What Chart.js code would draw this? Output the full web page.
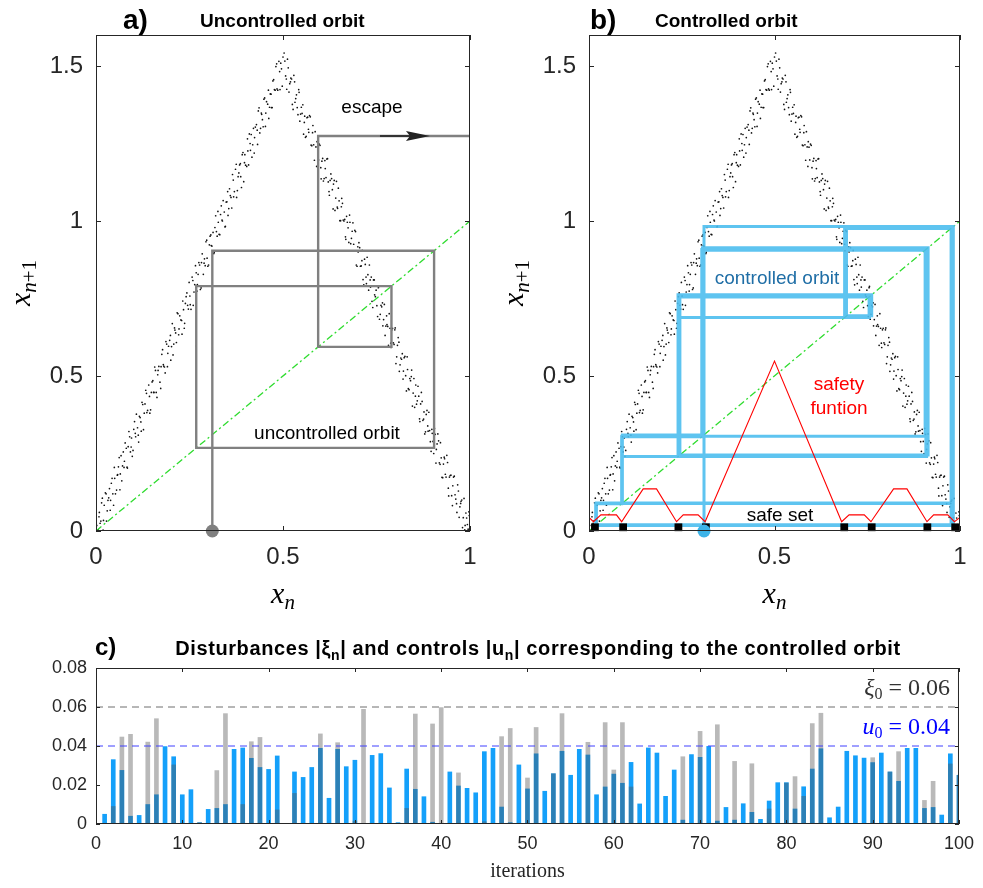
<!DOCTYPE html>
<html>
<head>
<meta charset="utf-8">
<script src="https://cdn.jsdelivr.net/npm/chart.js@4.4.1/dist/chart.umd.min.js"></script>
<style>
  body { margin: 0; background: #fff; }
  #wrap { position: relative; width: 983px; height: 888px; background: #fff; }
  canvas { position: absolute; }
</style>
</head>
<body>
<div id="wrap">
  <canvas id="chartA" width="490" height="620" style="left:0;top:0"></canvas>
  <canvas id="chartB" width="490" height="620" style="left:493px;top:0"></canvas>
  <canvas id="chartC" width="983" height="268" style="left:0;top:620px"></canvas>
</div>
<script>
// noisy tent map samples (x_n, x_{n+1})
const noisyMap = [
  [0.002,0.018],[0.006,0.004],[0.009,0.060],[0.013,0.032],[0.017,0.106],[0.020,0.034],[0.025,0.123],[0.028,0.032],
  [0.032,0.099],[0.036,0.137],[0.039,0.099],[0.043,0.170],[0.047,0.083],[0.050,0.170],[0.055,0.132],[0.058,0.182],
  [0.062,0.237],[0.065,0.184],[0.069,0.162],[0.073,0.255],[0.076,0.225],[0.081,0.267],[0.084,0.203],[0.088,0.321],
  [0.092,0.255],[0.095,0.300],[0.099,0.260],[0.103,0.353],[0.106,0.304],[0.111,0.333],[0.114,0.287],[0.118,0.366],
  [0.121,0.322],[0.125,0.408],[0.129,0.380],[0.133,0.454],[0.136,0.382],[0.141,0.471],[0.144,0.380],[0.148,0.447],
  [0.152,0.485],[0.155,0.447],[0.159,0.518],[0.163,0.431],[0.166,0.518],[0.171,0.480],[0.174,0.530],[0.178,0.585],
  [0.181,0.532],[0.185,0.510],[0.189,0.603],[0.192,0.573],[0.197,0.615],[0.200,0.551],[0.204,0.669],[0.208,0.603],
  [0.211,0.648],[0.215,0.608],[0.219,0.701],[0.222,0.652],[0.227,0.681],[0.230,0.635],[0.234,0.714],[0.237,0.670],
  [0.241,0.756],[0.245,0.728],[0.249,0.802],[0.252,0.730],[0.257,0.819],[0.260,0.728],[0.264,0.795],[0.268,0.833],
  [0.271,0.795],[0.275,0.866],[0.279,0.779],[0.282,0.866],[0.287,0.828],[0.290,0.878],[0.294,0.933],[0.297,0.880],
  [0.301,0.858],[0.305,0.951],[0.308,0.921],[0.313,0.963],[0.316,0.899],[0.320,1.017],[0.324,0.951],[0.327,0.996],
  [0.331,0.956],[0.335,1.049],[0.338,1.000],[0.343,1.029],[0.346,0.983],[0.350,1.062],[0.353,1.018],[0.357,1.104],
  [0.361,1.076],[0.365,1.150],[0.368,1.078],[0.373,1.167],[0.376,1.076],[0.380,1.143],[0.384,1.181],[0.387,1.143],
  [0.391,1.214],[0.395,1.127],[0.398,1.214],[0.403,1.176],[0.406,1.226],[0.410,1.281],[0.413,1.228],[0.417,1.206],
  [0.421,1.299],[0.424,1.269],[0.429,1.311],[0.432,1.247],[0.436,1.365],[0.440,1.299],[0.443,1.344],[0.447,1.304],
  [0.451,1.397],[0.454,1.348],[0.459,1.377],[0.462,1.331],[0.466,1.410],[0.469,1.366],[0.473,1.452],[0.477,1.424],
  [0.481,1.498],[0.484,1.426],[0.489,1.515],[0.492,1.424],[0.496,1.491],[0.500,1.529],
  [0.503,1.542],[0.507,1.468],[0.510,1.425],[0.514,1.494],[0.518,1.443],[0.521,1.461],[0.525,1.376],[0.529,1.470],
  [0.532,1.383],[0.536,1.407],[0.540,1.343],[0.543,1.415],[0.547,1.345],[0.551,1.347],[0.555,1.280],[0.558,1.338],
  [0.562,1.273],[0.566,1.335],[0.569,1.286],[0.573,1.336],[0.577,1.243],[0.580,1.308],[0.584,1.196],[0.588,1.239],
  [0.591,1.256],[0.595,1.197],[0.599,1.244],[0.602,1.136],[0.606,1.202],[0.610,1.137],[0.613,1.169],[0.617,1.200],
  [0.621,1.126],[0.624,1.083],[0.628,1.152],[0.632,1.101],[0.635,1.119],[0.639,1.034],[0.643,1.128],[0.646,1.041],
  [0.650,1.065],[0.654,1.001],[0.657,1.073],[0.661,1.003],[0.665,1.005],[0.668,0.941],[0.672,0.996],[0.676,0.931],
  [0.679,0.996],[0.683,0.944],[0.687,0.994],[0.690,0.904],[0.694,0.966],[0.698,0.854],[0.701,0.900],[0.705,0.914],
  [0.709,0.855],[0.712,0.905],[0.716,0.794],[0.720,0.860],[0.723,0.798],[0.727,0.827],[0.731,0.858],[0.734,0.787],
  [0.738,0.741],[0.742,0.810],[0.745,0.762],[0.749,0.777],[0.753,0.692],[0.756,0.789],[0.760,0.699],[0.764,0.723],
  [0.767,0.662],[0.771,0.731],[0.775,0.661],[0.778,0.666],[0.782,0.599],[0.786,0.654],[0.789,0.592],[0.793,0.654],
  [0.797,0.602],[0.800,0.655],[0.804,0.562],[0.808,0.624],[0.811,0.515],[0.815,0.558],[0.819,0.572],[0.822,0.516],
  [0.826,0.563],[0.830,0.452],[0.833,0.521],[0.837,0.456],[0.841,0.485],[0.844,0.519],[0.848,0.445],[0.852,0.399],
  [0.855,0.471],[0.859,0.420],[0.863,0.435],[0.866,0.353],[0.870,0.447],[0.874,0.357],[0.877,0.384],[0.881,0.320],
  [0.885,0.389],[0.888,0.322],[0.892,0.324],[0.896,0.257],[0.899,0.315],[0.903,0.250],[0.907,0.312],[0.910,0.263],
  [0.914,0.313],[0.918,0.220],[0.921,0.285],[0.925,0.173],[0.929,0.216],[0.932,0.233],[0.936,0.174],[0.940,0.221],
  [0.943,0.113],[0.947,0.179],[0.951,0.114],[0.954,0.146],[0.958,0.177],[0.962,0.103],[0.965,0.060],[0.969,0.129],
  [0.973,0.078],[0.976,0.096],[0.980,0.011],[0.984,0.105],[0.987,0.018],[0.991,0.042],[0.995,0.006],[0.998,0.050],
  [0.004,0.003],[0.008,0.046],[0.011,0.025],[0.015,0.091],[0.019,0.003],[0.022,0.083],[0.027,0.120],[0.030,0.065],
  [0.034,0.107],[0.038,0.067],[0.041,0.154],[0.045,0.120],[0.049,0.205],[0.052,0.120],[0.057,0.180],[0.060,0.207],
  [0.064,0.133],[0.067,0.243],[0.071,0.210],[0.075,0.205],[0.078,0.284],[0.083,0.206],[0.086,0.272],[0.090,0.304],
  [0.094,0.271],[0.097,0.241],[0.101,0.328],[0.105,0.315],[0.108,0.377],[0.113,0.309],[0.116,0.370],[0.120,0.352],
  [0.123,0.415],[0.127,0.327],[0.131,0.410],[0.135,0.444],[0.138,0.389],[0.143,0.434],[0.146,0.391],[0.150,0.481],
  [0.154,0.447],[0.157,0.529],[0.161,0.447],[0.165,0.504],[0.168,0.531],[0.173,0.460],[0.176,0.570],[0.180,0.537],
  [0.183,0.529],[0.187,0.611],[0.191,0.530],[0.194,0.596],[0.199,0.631],[0.202,0.595],[0.206,0.568],[0.210,0.655],
  [0.213,0.639],[0.217,0.704],[0.221,0.633],[0.224,0.694],[0.229,0.679],[0.232,0.742],[0.236,0.654],[0.239,0.734],
  [0.243,0.768],[0.247,0.716],[0.251,0.758],[0.254,0.715],[0.259,0.808],[0.262,0.771],[0.266,0.856],[0.270,0.774],
  [0.273,0.828],[0.277,0.858],[0.281,0.784],[0.284,0.894],[0.289,0.864],[0.292,0.856],[0.296,0.938],[0.299,0.854],
  [0.303,0.923],[0.307,0.955],[0.310,0.919],[0.315,0.895],[0.318,0.979],[0.322,0.966],[0.326,1.031],[0.329,0.957],
  [0.333,1.021],[0.337,1.003],[0.340,1.066],[0.345,0.981],[0.348,1.061],[0.352,1.095],[0.355,1.040],[0.359,1.082],
  [0.363,1.042],[0.367,1.132],[0.370,1.095],[0.375,1.183],[0.378,1.098],[0.382,1.155],[0.386,1.185],[0.389,1.108],
  [0.393,1.221],[0.397,1.188],[0.400,1.180],[0.405,1.265],[0.408,1.181],[0.412,1.250],[0.415,1.279],[0.419,1.246],
  [0.423,1.219],[0.426,1.303],[0.431,1.293],[0.434,1.355],[0.438,1.284],[0.442,1.348],[0.445,1.327],[0.449,1.393],
  [0.453,1.305],[0.456,1.385],[0.461,1.422],[0.464,1.367],[0.468,1.409],[0.471,1.366],[0.475,1.456],[0.479,1.422],
  [0.483,1.507],[0.486,1.422],[0.491,1.482],[0.494,1.509],[0.498,1.435],
  [0.505,1.516],[0.509,1.458],[0.512,1.522],[0.516,1.416],[0.520,1.449],[0.523,1.458],[0.527,1.360],[0.531,1.449],
  [0.534,1.395],[0.538,1.366],[0.542,1.424],[0.545,1.322],[0.549,1.367],[0.553,1.375],[0.557,1.318],[0.560,1.270],
  [0.564,1.333],[0.568,1.296],[0.571,1.340],[0.575,1.245],[0.579,1.285],[0.582,1.246],[0.586,1.288],[0.590,1.176],
  [0.593,1.238],[0.597,1.248],[0.601,1.172],[0.604,1.193],[0.608,1.129],[0.612,1.195],[0.615,1.140],[0.619,1.201],
  [0.623,1.095],[0.626,1.131],[0.630,1.137],[0.634,1.039],[0.637,1.131],[0.641,1.074],[0.645,1.045],[0.648,1.106],
  [0.652,1.001],[0.656,1.046],[0.659,1.057],[0.663,1.000],[0.667,0.949],[0.670,1.015],[0.674,0.978],[0.678,1.019],
  [0.681,0.927],[0.685,0.967],[0.689,0.925],[0.692,0.970],[0.696,0.858],[0.700,0.917],[0.703,0.930],[0.707,0.854],
  [0.711,0.872],[0.714,0.811],[0.718,0.877],[0.722,0.819],[0.725,0.883],[0.729,0.777],[0.733,0.810],[0.736,0.819],
  [0.740,0.721],[0.744,0.810],[0.747,0.756],[0.751,0.727],[0.755,0.785],[0.758,0.683],[0.762,0.728],[0.766,0.736],
  [0.769,0.682],[0.773,0.631],[0.777,0.694],[0.780,0.660],[0.784,0.701],[0.788,0.606],[0.791,0.649],[0.795,0.607],
  [0.799,0.649],[0.802,0.540],[0.806,0.599],[0.810,0.609],[0.813,0.536],[0.817,0.554],[0.821,0.490],[0.824,0.559],
  [0.828,0.501],[0.832,0.562],[0.835,0.459],[0.839,0.492],[0.843,0.498],[0.846,0.403],[0.850,0.492],[0.854,0.435],
  [0.857,0.409],[0.861,0.467],[0.865,0.362],[0.868,0.410],[0.872,0.418],[0.876,0.361],[0.879,0.313],[0.883,0.376],
  [0.887,0.339],[0.890,0.383],[0.894,0.288],[0.898,0.328],[0.901,0.289],[0.905,0.331],[0.909,0.219],[0.912,0.281],
  [0.916,0.291],[0.920,0.215],[0.923,0.236],[0.927,0.172],[0.931,0.238],[0.934,0.183],[0.938,0.244],[0.942,0.138],
  [0.945,0.174],[0.949,0.180],[0.953,0.082],[0.956,0.174],[0.960,0.117],[0.964,0.088],[0.967,0.149],[0.971,0.044],
  [0.975,0.089],[0.978,0.100],[0.982,0.043],[0.986,0.004],[0.989,0.058],[0.993,0.021],[0.997,0.062]
];

// orbits (successive x_n values)
const uncontrolledOrbit = [0.311, 0.904, 0.268, 0.79, 0.594, 1.274];
const controlledOrbit = [0.31, 0.982, 0.019, 0.089, 0.24, 0.756, 0.689, 0.982, 0.089, 0.306, 0.91, 0.24,
  0.689, 0.976, 0.02, 0.09, 0.31, 0.906, 0.306, 0.914, 0.245, 0.76, 0.694, 0.978, 0.018, 0.088, 0.304,
  0.908, 0.24, 0.755, 0.69, 0.98, 0.09, 0.24, 0.762, 0.694, 0.978];

// safety function and safe set
const safetyX = [0, 0.012, 0.032, 0.074, 0.088, 0.146, 0.182, 0.236, 0.254, 0.294, 0.313, 0.5,
  0.681, 0.701, 0.742, 0.76, 0.821, 0.857, 0.911, 0.929, 0.967, 0.985, 1];
const safetyY = [0.044, 0.03, 0.052, 0.052, 0.03, 0.136, 0.136, 0.03, 0.052, 0.052, 0.03, 0.548,
  0.03, 0.052, 0.052, 0.03, 0.136, 0.136, 0.03, 0.052, 0.052, 0.03, 0.044];
const safeSetX = [0.016, 0.092, 0.241, 0.315, 0.688, 0.762, 0.912, 0.987];
const safeSetY = 0.012;

const orbitTicksX = [0, 0.5, 1];
const orbitTicksY = [0, 0.5, 1, 1.5];

// panel c: |u_n| and |xi_n| for n = 1..100
const controls = [
  0.005, 0.033, 0.0275, 0.004, 0.0044, 0.010, 0.015, 0.0397, 0.0345, 0.015,
  0.0176, 0.0007, 0.0075, 0.008, 0.010, 0.0383, 0.039, 0.0337, 0.029, 0.028,
  0.0349, 0.0003, 0.0267, 0.0239, 0.029, 0.0388, 0.0132, 0.0383, 0.0294, 0.0327,
  0, 0.0352, 0.0361, 0.0185, 0.0007, 0.0282, 0.0178, 0.014, 0.0009, 0,
  0.0267, 0.0195, 0.0183, 0.016, 0.0371, 0.0388, 0.0087, 0.0007, 0.0303, 0.018,
  0.036, 0.0168, 0.0258, 0.0373, 0.025, 0.0383, 0.0354, 0.015, 0.019, 0.0256,
  0.0209, 0.0316, 0.0103, 0.039, 0.0364, 0.0142, 0.0277, 0.002, 0.0356, 0.0342,
  0.0398, 0.0015, 0.0085, 0.002, 0.0104, 0.006, 0.0024, 0.0118, 0.0212, 0.0212,
  0.0077, 0.0191, 0.0282, 0.0386, 0.0032, 0.0087, 0.0373, 0.035, 0.0338, 0.0315,
  0.0364, 0.0267, 0.0219, 0.0388, 0.0388, 0.008, 0.0085, 0.0046, 0.036, 0.025
];
const disturbances = [
  0, 0.009, 0.0446, 0.046, 0, 0.042, 0.054, 0, 0.0303, 0,
  0, 0.0007, 0, 0.0274, 0.0566, 0, 0.010, 0.0422, 0.0444, 0,
  0.0072, 0, 0.0157, 0, 0, 0.0462, 0, 0.0417, 0, 0.0015,
  0.0588, 0, 0, 0, 0, 0.008, 0.0564, 0, 0.0513, 0.0597,
  0, 0.0262, 0, 0, 0.0012, 0, 0.0448, 0.049, 0, 0.0236,
  0.0495, 0, 0.0258, 0.0566, 0, 0, 0.0419, 0, 0.052, 0.0277,
  0.052, 0.019, 0, 0, 0, 0, 0, 0.0345, 0, 0.0475,
  0, 0.0509, 0, 0.0321, 0, 0.0309, 0, 0.0077, 0, 0.021,
  0.0243, 0.0142, 0.0515, 0.0568, 0, 0, 0, 0, 0, 0.034,
  0, 0.0267, 0.0371, 0, 0, 0.0121, 0.0219, 0, 0.0308, 0.025
];
const xiBound = 0.06;
const uBound = 0.04;
const iterTicks = [0, 10, 20, 30, 40, 50, 60, 70, 80, 90, 100];
const barTicksY = [0, 0.02, 0.04, 0.06, 0.08];

const SANS = "'Liberation Sans', Arial, sans-serif";
const SERIF = "'Liberation Serif', 'Times New Roman', serif";
Chart.defaults.font.family = SANS;
Chart.defaults.color = '#262626';

// cobweb path: (x0,0) -> (x0,x1) -> (x1,x1) -> (x1,x2) -> ...
function cobweb(orbit) {
  const pts = [{ x: orbit[0], y: 0 }];
  for (let i = 0; i < orbit.length - 1; i++) {
    pts.push({ x: orbit[i], y: orbit[i + 1] });
    pts.push({ x: orbit[i + 1], y: orbit[i + 1] });
  }
  return pts;
}

function drawRuns(ctx, runs, x, y, align, spacing) {
  ctx.letterSpacing = spacing || '0px';
  let w = 0;
  runs.forEach(r => { ctx.font = r.font; w += ctx.measureText(r.text).width; });
  let cx = align === 'center' ? x - w / 2 : align === 'right' ? x - w : x;
  ctx.textAlign = 'left';
  ctx.textBaseline = 'alphabetic';
  runs.forEach(r => {
    ctx.font = r.font;
    ctx.fillStyle = r.color || '#000';
    ctx.fillText(r.text, cx, y + (r.dy || 0));
    cx += ctx.measureText(r.text).width;
  });
  ctx.letterSpacing = '0px';
}

// box with inward ticks on all sides
const boxPlugin = {
  id: 'matlabBox',
  afterDraw(chart, args, opts) {
    const { ctx, chartArea: a, scales: { x, y } } = chart;
    const len = opts.tick || 5;
    ctx.save();
    ctx.strokeStyle = '#262626';
    ctx.lineWidth = 1;
    ctx.strokeRect(a.left + 0.5, a.top + 0.5, a.width - 1, a.height - 1);
    ctx.beginPath();
    x.ticks.forEach(t => {
      const px = Math.round(x.getPixelForValue(t.value)) + 0.5;
      ctx.moveTo(px, a.bottom); ctx.lineTo(px, a.bottom - len);
      ctx.moveTo(px, a.top); ctx.lineTo(px, a.top + len);
    });
    y.ticks.forEach(t => {
      const py = Math.round(y.getPixelForValue(t.value)) + 0.5;
      ctx.moveTo(a.left, py); ctx.lineTo(a.left + len, py);
      ctx.moveTo(a.right, py); ctx.lineTo(a.right - len, py);
    });
    ctx.stroke();
    ctx.restore();
  }
};

function orbitScales() {
  return {
    x: {
      type: 'linear', min: 0, max: 1,
      grid: { display: false, drawTicks: false }, border: { display: false },
      afterBuildTicks: s => { s.ticks = orbitTicksX.map(v => ({ value: v })); },
      ticks: { padding: 12, font: { size: 24 }, callback: v => String(v) },
      afterFit: s => { s.height = 89; }
    },
    y: {
      type: 'linear', min: 0, max: 1.6,
      grid: { display: false, drawTicks: false }, border: { display: false },
      afterBuildTicks: s => { s.ticks = orbitTicksY.map(v => ({ value: v })); },
      ticks: { padding: 13, font: { size: 24 }, callback: v => String(v) },
      afterFit: s => { s.width = 96; }
    }
  };
}

function axisTitles(ctx, chart) {
  const a = chart.chartArea;
  const big = 'italic 30px ' + SERIF;
  const sub = 'italic 21px ' + SERIF;
  const subUp = '21px ' + SERIF;
  drawRuns(ctx, [{ text: 'x', font: big }, { text: 'n', font: sub, dy: 6 }],
    (a.left + a.right) / 2, 603, 'center');
  ctx.save();
  ctx.translate(a.left - 66, (a.top + a.bottom) / 2);
  ctx.rotate(-Math.PI / 2);
  drawRuns(ctx, [{ text: 'x', font: big }, { text: 'n', font: sub, dy: 6 },
    { text: '+1', font: subUp, dy: 6 }], 0, 0, 'center');
  ctx.restore();
}

const cloudData = noisyMap.map(p => ({ x: p[0], y: p[1] }));
const diagonal = [{ x: 0, y: 0 }, { x: 1, y: 1 }];

const cloudSet = {
  data: cloudData, showLine: false, pointRadius: 0.85, pointBorderWidth: 0,
  pointBackgroundColor: '#111', pointHoverRadius: 0
};
const diagonalSet = {
  data: diagonal, showLine: true, borderColor: '#2fdc2f', borderWidth: 1.3,
  borderDash: [7, 3, 2, 3], pointRadius: 0
};

// ---- panel a ----
const labelsA = {
  id: 'labelsA',
  afterDraw(chart) {
    const { ctx, scales: { x, y } } = chart;
    ctx.save();
    drawRuns(ctx, [{ text: 'a)', font: 'bold 28px ' + SANS }], 123, 29, 'left');
    drawRuns(ctx, [{ text: 'Uncontrolled orbit', font: 'bold 19px ' + SANS }], 200, 27, 'left');
    drawRuns(ctx, [{ text: 'escape', font: '19px ' + SANS }], 372, 113, 'center');
    drawRuns(ctx, [{ text: 'uncontrolled orbit', font: '19px ' + SANS }], 327, 439, 'center');
    // escape arrow
    const tx = x.getPixelForValue(0.893), ty = y.getPixelForValue(uncontrolledOrbit[5]);
    ctx.strokeStyle = '#333'; ctx.lineWidth = 2;
    ctx.beginPath(); ctx.moveTo(tx - 50, ty); ctx.lineTo(tx - 18, ty); ctx.stroke();
    ctx.fillStyle = '#222';
    ctx.beginPath(); ctx.moveTo(tx, ty); ctx.lineTo(tx - 24, ty - 5); ctx.lineTo(tx - 20, ty);
    ctx.lineTo(tx - 24, ty + 5); ctx.closePath(); ctx.fill();
    axisTitles(ctx, chart);
    ctx.restore();
  }
};

new Chart(document.getElementById('chartA'), {
  type: 'scatter',
  data: {
    datasets: [
      { data: [{ x: uncontrolledOrbit[0], y: 0 }], pointRadius: 6.5, pointBackgroundColor: '#808080',
        pointBorderWidth: 0, clip: false },
      { data: cobweb(uncontrolledOrbit), showLine: true, borderColor: '#808080', borderWidth: 2.4,
        pointRadius: 0, borderJoinStyle: 'miter' },
      diagonalSet,
      cloudSet
    ]
  },
  options: {
    responsive: false, animation: false,
    layout: { padding: { top: 35, right: 20, left: 0, bottom: 0 } },
    plugins: { legend: { display: false }, tooltip: { enabled: false }, matlabBox: { tick: 5 } },
    scales: orbitScales()
  },
  plugins: [boxPlugin, labelsA]
});

// ---- panel b ----
const labelsB = {
  id: 'labelsB',
  afterDraw(chart) {
    const { ctx } = chart;
    ctx.save();
    drawRuns(ctx, [{ text: 'b)', font: 'bold 28px ' + SANS }], 97, 29, 'left');
    drawRuns(ctx, [{ text: 'Controlled orbit', font: 'bold 19px ' + SANS }], 162, 27, 'left');
    drawRuns(ctx, [{ text: 'controlled orbit', font: '19px ' + SANS, color: '#1f6ea6' }], 284, 284, 'center');
    drawRuns(ctx, [{ text: 'safety', font: '19px ' + SANS, color: '#ff0000' }], 346, 390, 'center');
    drawRuns(ctx, [{ text: 'funtion', font: '19px ' + SANS, color: '#ff0000' }], 346, 414, 'center');
    drawRuns(ctx, [{ text: 'safe set', font: '19px ' + SANS }], 287, 521, 'center');
    axisTitles(ctx, chart);
    ctx.restore();
  }
};

new Chart(document.getElementById('chartB'), {
  type: 'scatter',
  data: {
    datasets: [
      { data: [{ x: controlledOrbit[0], y: 0 }], pointRadius: 6.5, pointBackgroundColor: '#3db3e8',
        pointBorderWidth: 0, clip: false },
      { data: safeSetX.map(v => ({ x: v, y: safeSetY })), pointStyle: 'rect', pointRadius: 5.5,
        pointBackgroundColor: '#000', pointBorderWidth: 0, clip: false },
      { data: safetyX.map((v, i) => ({ x: v, y: safetyY[i] })), showLine: true, borderColor: '#ff0000',
        borderWidth: 1.1, pointRadius: 0 },
      { data: cobweb(controlledOrbit), showLine: true, borderColor: 'rgba(77,190,238,0.9)', borderWidth: 3,
        pointRadius: 0, borderJoinStyle: 'miter' },
      diagonalSet,
      cloudSet
    ]
  },
  options: {
    responsive: false, animation: false,
    layout: { padding: { top: 35, right: 23, left: 0, bottom: 0 } },
    plugins: { legend: { display: false }, tooltip: { enabled: false }, matlabBox: { tick: 5 } },
    scales: orbitScales()
  },
  plugins: [boxPlugin, labelsB]
});

// ---- panel c ----
const labelsC = {
  id: 'labelsC',
  afterDraw(chart) {
    const { ctx, chartArea: a } = chart;
    const b20 = 'bold 20px ' + SANS, b14 = 'bold 14px ' + SANS;
    ctx.save();
    drawRuns(ctx, [{ text: 'c)', font: 'bold 24px ' + SANS }], 95, 35, 'left');
    drawRuns(ctx, [
      { text: 'Disturbances |\u03be', font: b20 }, { text: 'n', font: b14, dy: 5 },
      { text: '| and controls |u', font: b20 }, { text: 'n', font: b14, dy: 5 },
      { text: '| corresponding to the controlled orbit', font: b20 }
    ], 538, 35, 'center', '0.6px');
    const it = 'italic 24px ' + SERIF, rm = '24px ' + SERIF, sb = '16px ' + SERIF;
    drawRuns(ctx, [{ text: '\u03be', font: it, color: '#333' }, { text: '0', font: sb, dy: 4, color: '#333' },
      { text: ' = 0.06', font: rm, color: '#333' }], a.right - 9, 75, 'right');
    drawRuns(ctx, [{ text: 'u', font: it, color: '#0000ff' }, { text: '0', font: sb, dy: 4, color: '#0000ff' },
      { text: ' = 0.04', font: rm, color: '#0000ff' }], a.right - 9, 114, 'right');
    drawRuns(ctx, [{ text: 'iterations', font: '20px ' + SERIF, color: '#262626' }],
      (a.left + a.right) / 2, 257, 'center');
    ctx.restore();
  }
};

new Chart(document.getElementById('chartC'), {
  type: 'bar',
  data: {
    datasets: [
      { type: 'line', data: [{ x: 0, y: xiBound }, { x: 100, y: xiBound }], borderColor: '#6e6e6e',
        borderWidth: 1, borderDash: [7, 5], pointRadius: 0, order: 0 },
      { type: 'line', data: [{ x: 0, y: uBound }, { x: 100, y: uBound }], borderColor: '#4040ff',
        borderWidth: 1, borderDash: [7, 5], pointRadius: 0, order: 1 },
      { data: disturbances.map((v, i) => ({ x: i + 1, y: v })), backgroundColor: 'rgba(80,80,80,0.4)',
        barThickness: 4, grouped: false, borderWidth: 0, order: 2 },
      { data: controls.map((v, i) => ({ x: i + 1, y: v })), backgroundColor: 'rgb(20,160,250)',
        barThickness: 4, grouped: false, borderWidth: 0, order: 3 }
    ]
  },
  options: {
    responsive: false, animation: false,
    layout: { padding: { top: 48, right: 21, left: 0, bottom: 0 } },
    plugins: { legend: { display: false }, tooltip: { enabled: false }, matlabBox: { tick: 4 } },
    scales: {
      x: {
        type: 'linear', min: 0, max: 100, offset: false,
        grid: { display: false, drawTicks: false }, border: { display: false },
        afterBuildTicks: s => { s.ticks = iterTicks.map(v => ({ value: v })); },
        ticks: { padding: 9, font: { size: 18 }, callback: v => String(v) },
        afterFit: s => { s.height = 64; }
      },
      y: {
        type: 'linear', min: 0, max: 0.08,
        grid: { display: false, drawTicks: false }, border: { display: false },
        afterBuildTicks: s => { s.ticks = barTicksY.map(v => ({ value: v })); },
        ticks: { padding: 9, font: { size: 18 }, callback: v => String(v) },
        afterFit: s => { s.width = 96; }
      }
    }
  },
  plugins: [boxPlugin, labelsC]
});
</script>
</body>
</html>
